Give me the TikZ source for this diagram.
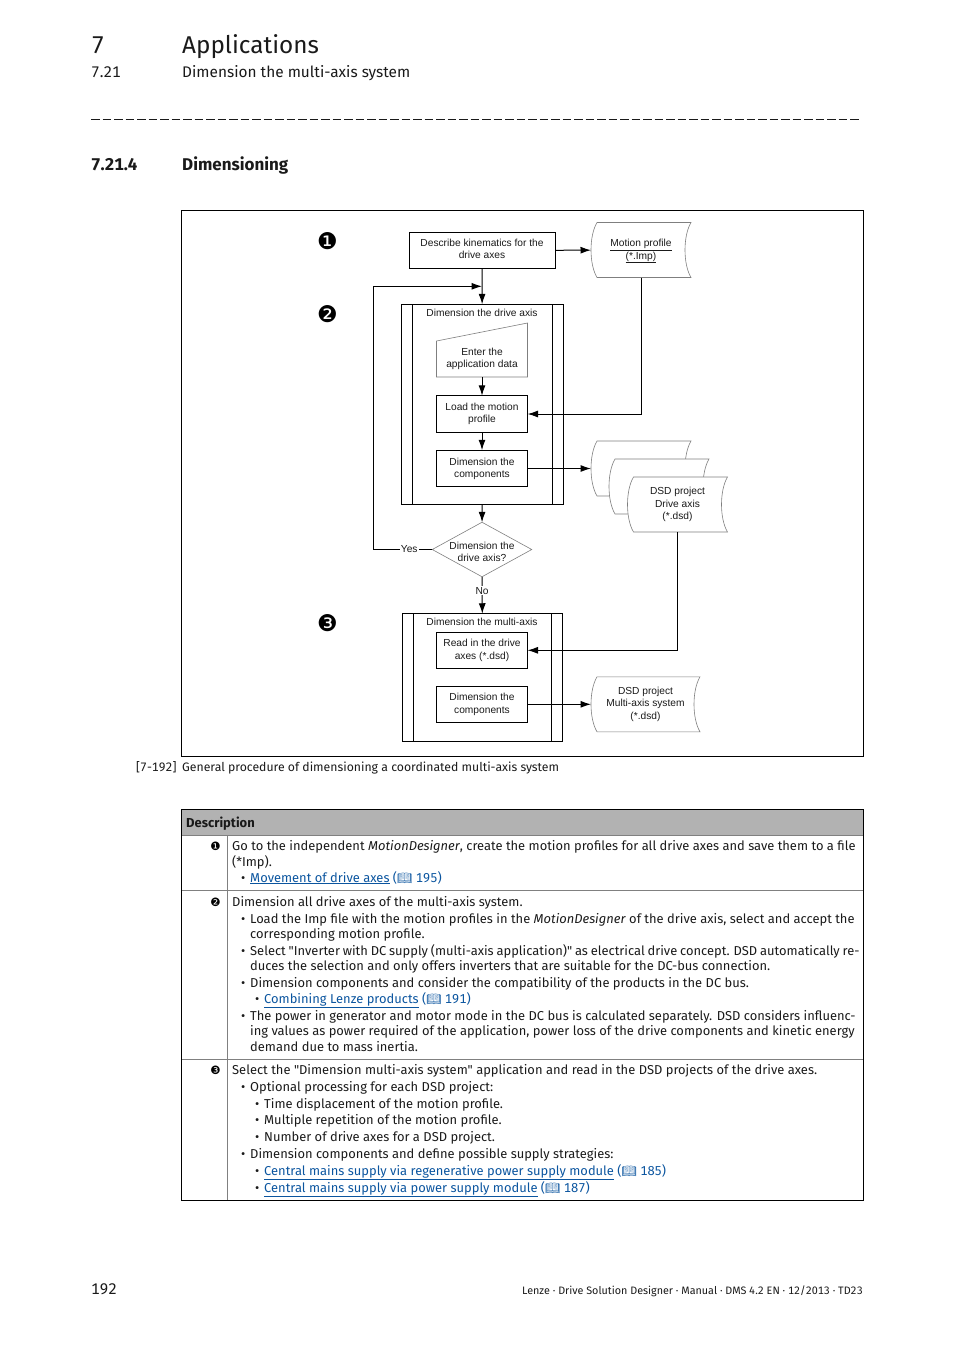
\documentclass[tikz,border=0pt]{standalone}
\usepackage{fontspec}
\setmainfont[Numbers=Monospaced,Ligatures=TeXOff]{Fira Sans}
\newfontfamily\flowface{Liberation Sans}
\newfontfamily\dingface{DejaVu Sans}
\newfontfamily\bookface{Noto Emoji}
\usepackage{xcolor}
\usetikzlibrary{arrows.meta,shapes.geometric}

\definecolor{inkcol}{HTML}{1A1A1A}
\definecolor{linkcol}{HTML}{0B559F}
\definecolor{headcol}{HTML}{B2B2B2}
\definecolor{rulecol}{HTML}{808080}
\definecolor{outlinecol}{HTML}{7F7F7F}

\newcommand{\flowfont}{\flowface\fontsize{10.2}{12.2}\selectfont}
\newcommand{\bodyfont}{\fontsize{12.92}{16}\selectfont}
\newcommand{\bul}{\makebox[9pt][l]{\textbullet}}
\newcommand{\lnk}[1]{\textcolor{linkcol}{\underline{#1}}}
\newcommand{\bookref}[1]{\textcolor{linkcol}{({\bookface\fontsize{12}{12}\selectfont\symbol{"1F4D6}}~#1)}}

\tikzset{
  process/.style={draw, rectangle, minimum width=91pt, minimum height=36.5pt, inner sep=0pt, outer sep=0pt, align=center, font=\flowfont, text=inkcol, line width=1pt},
  flowtext/.style={inner sep=0pt, align=center, font=\flowfont, text=inkcol},
  frame/.style={draw, rectangle, inner sep=0pt, outer sep=0pt, line width=1pt},
  docbox/.style={rectangle, inner sep=0pt, outer sep=0pt, minimum height=55pt},
  docline/.style={draw=outlinecol, fill=white, line width=0.6pt},
  decision/.style={diamond, draw=outlinecol, line width=0.6pt, inner sep=0pt, outer sep=0pt, minimum width=99.5pt, minimum height=54.5pt},
  flow/.style={-{Latex[length=10.5pt,width=7pt]}, line width=1pt},
  plainflow/.style={line width=1pt},
  tag/.style={inner sep=0pt, font=\dingface\fontsize{23}{23}\selectfont},
  smalltag/.style={inner sep=0pt, anchor=base east, font=\dingface\fontsize{11.5}{12}\selectfont},
  textline/.style={inner sep=0pt, anchor=base west, font=\bodyfont, text=inkcol},
}

% name, centre, width, text
\newcommand{\docfile}[5][]{
\node[docbox,minimum width=#3] (#2) at (#4) {};
\draw[docline] ([xshift=6pt]#2.north west) -- (#2.north east) .. controls ([xshift=-8pt,yshift=14pt]#2.east) and ([xshift=-8pt,yshift=-14pt]#2.east) .. (#2.south east) -- ([xshift=6pt]#2.south west) .. controls ([xshift=-2pt,yshift=-14pt]#2.west) and ([xshift=-2pt,yshift=14pt]#2.west) .. ([xshift=6pt]#2.north west) -- cycle;
\node[flowtext,#1] (#2text) at (#2) {#5};
}

\begin{document}
\begin{tikzpicture}[x=1pt, y=-1pt]
\useasboundingbox (0,0) rectangle (954,1350);

% page head
\node[textline,font=\fontsize{24.3}{25}\selectfont] (chapno) at (91,53) {7};
\node[textline,font=\fontsize{24.3}{25}\selectfont] (chaptitle) at (182,53) {Applications};
\node[textline,font=\fontsize{15.4}{15}\selectfont] (secno) at (91,77) {7.21};
\node[textline,font=\fontsize{15.4}{15}\selectfont] (sectitle) at (182,77) {Dimension the multi-axis system};
\draw[inkcol,line width=1pt,dash pattern=on 8.5pt off 3pt] (91,119) -- (860,119);
\node[textline,font=\bfseries\fontsize{17}{16}\selectfont] (subno) at (91,170) {7.21.4};
\node[textline,font=\bfseries\fontsize{17}{16}\selectfont] (subtitle) at (182,170) {Dimensioning};

% diagram
\draw[line width=1pt] (181.5,210.5) rectangle (863.5,756.5);

\node[tag] (mark1) at (327.5,241) {❶};
\node[tag] (mark2) at (327.5,314) {❷};
\node[tag] (mark3) at (327.5,623) {❸};

\node[process,minimum width=146pt,text depth=3pt] (kin) at (482,250.5) {Describe kinematics for the\\drive axes};
\docfile[yshift=-1.3pt]{motion}{100pt}{641,250}{\underline{Motion profile}\\\underline{(*.Imp)}}

\node[frame,minimum width=162pt,minimum height=200pt] (drive) at (482.3,404.3) {};
\draw[plainflow] (412.7,304.3) -- (412.7,504.3);
\draw[plainflow] (552.7,304.3) -- (552.7,504.3);
\node[flowtext] (drivetitle) at (482,313) {Dimension the drive axis};

\node[inner sep=0pt,outer sep=0pt,minimum width=91pt,minimum height=54pt] (enter) at (482,350) {};
\draw[docline] (enter.north east) -- (enter.south east) -- (enter.south west) -- ([yshift=-18pt]enter.north west) -- cycle;
\node[flowtext] (entertext) at (482,359) {Enter the\\application data};

\node[process] (load) at (482,414) {Load the motion\\profile};
\node[process,below of=load,node distance=54.5pt] (comps) {Dimension the\\components};

\docfile{dsda}{100pt}{641,468.5}{}
\docfile{dsdb}{100pt}{659,486.5}{}
\docfile{dsdc}{100pt}{677.5,504.5}{DSD project\\Drive axis\\(*.dsd)}

\node[decision] (again) at (482,549.5) {};
\node[flowtext] (againtext) at (482,552) {Dimension the\\drive axis?};

\node[frame,minimum width=160pt,minimum height=127.5pt] (multi) at (482.3,677.5) {};
\draw[plainflow] (413.3,613.7) -- (413.3,741.2);
\draw[plainflow] (551.3,613.7) -- (551.3,741.2);
\node[flowtext] (multititle) at (482,621.5) {Dimension the multi-axis};

\node[process] (readin) at (482,650.3) {Read in the drive\\axes (*.dsd)};
\node[process,below of=readin,node distance=54pt] (comps2) {Dimension the\\components};
\docfile{dsdm}{109pt}{645.5,704.3}{DSD project\\Multi-axis system\\(*.dsd)}

\coordinate (yesbend) at (373.3,549.5);
\coordinate (joinpt) at (482,286.3);
\coordinate (motionbend) at (641,414);
\coordinate (dsdbend) at (677.5,650.3);

\path[flow] (kin) edge (motion)
            (kin) edge (drive)
            (enter) edge (load)
            (load) edge (comps)
            (comps) edge (dsda)
            (drive) edge (again)
            (comps2) edge (dsdm)
;
\draw[flow] (again.west) -- node[pos=0.39,fill=white,inner sep=1pt,font=\flowfont,text=inkcol] (yes) {Yes} (yesbend) |- (joinpt);
\draw[flow] (again.south) -- node[pos=0.38,fill=white,inner sep=1pt,font=\flowfont,text=inkcol] (no) {No} (multi.north);
\draw[flow] (motion.south) -- (motionbend) -- (load.east);
\draw[flow] (dsdc.south) -- (dsdbend) -- (readin.east);

\node[textline,font=\fontsize{12.25}{16}\selectfont] (captag) at (136,771) {[7-192]};
\node[textline,font=\fontsize{12.25}{16}\selectfont] (caption) at (182,771) {General procedure of dimensioning a coordinated multi-axis system};

% description table
\fill[headcol] (181.5,809.5) rectangle (863.5,835.5);
\node[textline,font=\bfseries\fontsize{13}{16}\selectfont] (deschead) at (186,827) {Description};
\draw[rulecol] (181.5,835.5) -- (863.5,835.5);
\draw[rulecol] (181.5,890.5) -- (863.5,890.5);
\draw[rulecol] (181.5,1059.5) -- (863.5,1059.5);
\draw[rulecol] (227.5,835.5) -- (227.5,1200.5);
\draw[line width=1pt] (181.5,809.5) rectangle (863.5,1200.5);

\node[smalltag] (row1) at (221,850) {❶};
\node[smalltag] (row2) at (221,906) {❷};
\node[smalltag] (row3) at (221,1074) {❸};

\node[textline] (la) at (232,850) {Go to the independent \textit{MotionDesigner}, create the motion profiles for all drive axes and save them to a file};
\node[textline] (lb) at (232,866) {(*Imp).};
\node[textline] (lc) at (241,882) {\bul\lnk{Movement of drive axes} \bookref{195}};

\node[textline] (ld) at (232,906) {Dimension all drive axes of the multi-axis system.};
\node[textline] (le) at (241,923) {\bul Load the Imp file with the motion profiles in the \textit{MotionDesigner} of the drive axis, select and accept the};
\node[textline] (lf) at (250,938) {corresponding motion profile.};
\node[textline] (lg) at (241,955) {\spaceskip=\dimexpr\fontdimen2\font-0.6pt\relax\bul Select "Inverter with DC supply (multi-axis application)" as electrical drive concept. DSD automatically re-};
\node[textline] (lh) at (250,970) {duces the selection and only offers inverters that are suitable for the DC-bus connection.};
\node[textline] (li) at (241,987) {\bul Dimension components and consider the compatibility of the products in the DC bus.};
\node[textline] (lj) at (255,1003) {\bul\lnk{Combining Lenze products} \bookref{191}};
\node[textline] (lk) at (241,1020) {\bul The power in generator and motor mode in the DC bus is calculated separately. DSD considers influenc-};
\node[textline] (ll) at (250,1035) {ing values as power required of the application, power loss of the drive components and kinetic energy};
\node[textline] (lm) at (250,1051) {demand due to mass inertia.};

\node[textline] (ln) at (232,1074) {Select the "Dimension multi-axis system" application and read in the DSD projects of the drive axes.};
\node[textline] (lo) at (241,1091) {\bul Optional processing for each DSD project:};
\node[textline] (lp) at (255,1108) {\bul Time displacement of the motion profile.};
\node[textline] (lq) at (255,1124) {\bul Multiple repetition of the motion profile.};
\node[textline] (lr) at (255,1141) {\bul Number of drive axes for a DSD project.};
\node[textline] (ls) at (241,1158) {\bul Dimension components and define possible supply strategies:};
\node[textline] (lt) at (255,1175) {\bul\lnk{Central mains supply via regenerative power supply module} \bookref{185}};
\node[textline] (lu) at (255,1192) {\bul\lnk{Central mains supply via power supply module} \bookref{187}};

% page foot
\node[textline,font=\fontsize{15.4}{15}\selectfont] (pageno) at (91,1294) {192};
\node[inner sep=0pt,anchor=base east,font=\fontsize{10.77}{12}\selectfont,text=inkcol] (foot) at (863,1294) {Lenze · Drive Solution Designer · Manual · DMS 4.2 EN · 12/2013 · TD23};
\end{tikzpicture}
\end{document}
